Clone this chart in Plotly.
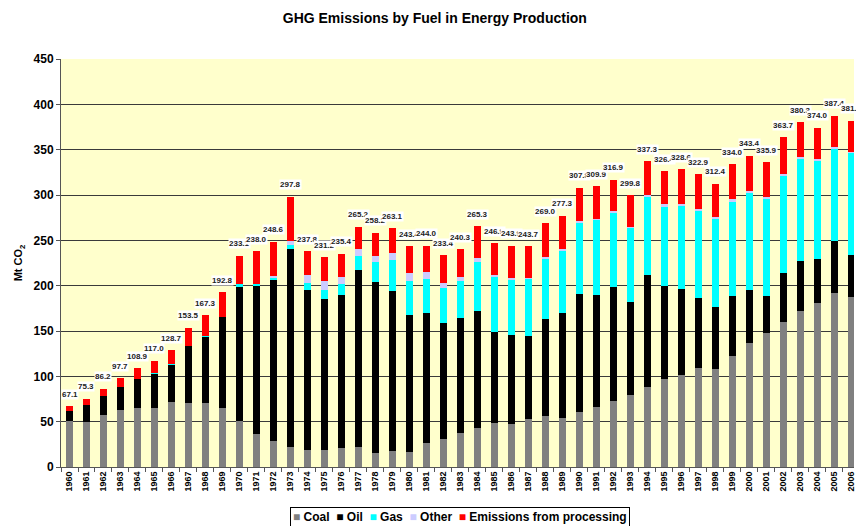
import plotly.graph_objs as go

years = [str(y) for y in range(1960, 2007)]

coal = [50.6, 50.0, 57.6, 63.0, 65.3, 65.3, 72.0, 70.8, 70.8, 65.3,
        51.0, 36.7, 29.0, 22.4, 19.1, 19.1, 21.3, 22.4, 15.8, 18.0,
        16.9, 26.8, 31.2, 37.8, 43.3, 48.8, 47.7, 53.2, 56.5, 54.3,
        60.9, 66.4, 72.3, 79.6, 88.4, 97.2, 101.7, 109.4, 108.2, 122.6,
        136.9, 147.9, 160.0, 172.1, 181.0, 192.0, 187.6]
oil = [11.4, 18.6, 20.9, 25.4, 31.9, 37.4, 41.0, 62.8, 73.1, 100.2,
       147.5, 162.9, 177.6, 218.0, 176.2, 166.3, 168.5, 194.9, 188.3, 176.2,
       150.8, 143.1, 127.7, 126.6, 128.8, 100.2, 98.0, 91.4, 106.8, 115.6,
       130.0, 123.4, 126.3, 102.4, 123.4, 102.5, 94.7, 77.1, 68.3, 66.1,
       58.4, 40.8, 54.0, 55.1, 48.4, 57.2, 46.2]
gas = [0.0, 0.0, 0.0, 0.0, 0.0, 1.2, 0.8, 0.0, 1.0, 0.0,
       3.3, 2.4, 2.9, 4.4, 7.7, 9.9, 12.1, 15.4, 22.0, 34.1,
       37.5, 37.5, 38.6, 40.8, 54.0, 60.9, 60.6, 63.5, 66.7, 68.5,
       78.6, 82.7, 81.6, 82.6, 87.0, 88.1, 92.5, 96.9, 98.1, 104.6,
       107.9, 107.9, 107.9, 113.4, 109.0, 102.4, 112.7]
other = [0.0, 0.0, 0.0, 0.0, 0.0, 0.0, 0.0, 0.0, 0.0, 0.0,
         0.0, 0.0, 0.8, 4.8, 8.8, 9.9, 7.7, 7.7, 6.6, 7.7,
         8.8, 7.7, 5.5, 4.4, 4.8, 1.9, 2.2, 0.7, 2.0, 2.2,
         1.7, 1.5, 2.2, 0.5, 1.2, 2.2, 1.1, 1.1, 1.4, 2.1,
         1.1, 1.1, 1.1, 1.1, 1.1, 1.2, 1.1]
processing = [5.1, 6.7, 7.7, 9.3, 11.7, 13.1, 14.9, 19.9, 22.4, 27.3,
              31.3, 36.0, 38.3, 48.2, 26.0, 26.0, 25.8, 24.8, 25.5, 27.1,
              29.4, 28.9, 30.4, 30.7, 34.4, 35.1, 35.4, 34.9, 37.0, 36.7,
              36.6, 35.9, 34.5, 34.7, 37.3, 36.4, 38.6, 38.4, 36.4, 38.6,
              39.1, 38.2, 40.7, 38.6, 34.5, 34.6, 34.3]

series = [
    ("Coal", coal, "#808080"),
    ("Oil", oil, "#000000"),
    ("Gas", gas, "#00FFFF"),
    ("Other", other, "#CCCCFF"),
    ("Emissions from processing", processing, "#FF0000"),
]

totals = [round(sum(v), 1) for v in zip(coal, oil, gas, other, processing)]

fnt = "Arial, Liberation Sans, sans-serif"

fig = go.Figure()

for name, vals, col in series:
    fig.add_trace(go.Bar(
        x = years,
        y = vals,
        name = name,
        showlegend = False,
        marker = dict(color = col, line = dict(width = 0)),
    ))

# total labels above each bar (x given as category index)
for i, tot in enumerate(totals):
    fig.add_annotation(
        x = i, y = tot,
        xref = "x", yref = "y",
        text = "<b>%.1f</b>" % tot,
        showarrow = False,
        yshift = 12,
        font = dict(size = 8, color = "#222222", family = fnt),
        bgcolor = "white",
        borderpad = 0,
    )

# compact boxed legend, Excel style
legend_txt = "&nbsp; ".join(
    "<span style='color:%s'>■</span>&nbsp;%s" % (col, name) for name, vals, col in series
)
fig.add_annotation(
    x = 0.503, y = -0.098,
    xref = "paper", yref = "paper",
    xanchor = "center", yanchor = "top",
    text = "<b>" + legend_txt + "</b>",
    showarrow = False,
    font = dict(size = 12, family = fnt, color = "black"),
    bgcolor = "white",
    bordercolor = "black",
    borderwidth = 1,
    borderpad = 2,
)

fig.update_layout(
    barmode = "stack",
    bargap = 0.56,
    width = 856,
    height = 526,
    margin = dict(l = 61, r = 0, t = 59, b = 59),
    paper_bgcolor = "white",
    plot_bgcolor = "#FFFFCC",
    font = dict(family = fnt, color = "black"),
    title = dict(
        text = "<b>GHG Emissions by Fuel in Energy Production</b>",
        x = 0.508, xref = "container", xanchor = "center",
        y = 0.975, yref = "container",
        font = dict(size = 14, color = "black"),
    ),
    showlegend = False,
)

fig.update_yaxes(
    range = [0, 450],
    dtick = 50,
    showgrid = True,
    gridcolor = "#3a3a3a",
    gridwidth = 1,
    showline = True,
    linecolor = "#555555",
    linewidth = 1,
    ticks = "outside",
    ticklen = 4,
    tickcolor = "#555555",
    tickfont = dict(size = 12, family = fnt),
    tickprefix = "<b>",
    ticksuffix = "</b>",
    title = dict(text = "<b>Mt CO<sub>2</sub></b>", font = dict(size = 11), standoff = 8),
    zeroline = False,
)

fig.update_xaxes(
    type = "category",
    range = [-0.5, 46.16],
    tickangle = -90,
    tickfont = dict(size = 9, family = fnt),
    tickprefix = "<b>",
    ticksuffix = "</b>",
    ticks = "outside",
    tickson = "boundaries",
    ticklen = 4,
    tickcolor = "#555555",
    showline = True,
    linecolor = "#555555",
    linewidth = 1,
    showgrid = False,
)

fig.write_html(
    "out.html",
    config = {"displayModeBar": False},
    post_script = "document.body.style.margin = '0';",
)
